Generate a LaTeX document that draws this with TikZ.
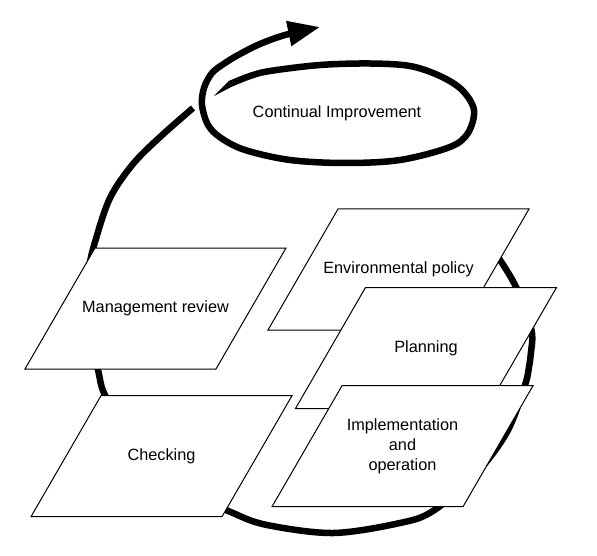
\documentclass[tikz,border=0pt]{standalone}
\usepackage{fontspec}
\setmainfont{Liberation Sans}
\usetikzlibrary{arrows.meta}
\newcommand{\stagefont}{\fontsize{16.3}{20}\selectfont}
\tikzset{
  band/.style={line width=6.5pt, line join=round},
  stageline/.style={draw, fill=white, line width=1pt, line join=miter},
  stagetext/.style={inner sep=0pt, align=center, font=\stagefont},
}
% a stage: slanted box round its centre, with a named text node
\newcommand{\stage}[4]{%
  \draw[stageline] (#2,#3) ++(-130.5,60.5) -- ++(191,0) -- ++(70,-121) -- ++(-191,0) -- cycle;
  \node[stagetext] (#1) at (#2,#3) {#4};}

\begin{document}
\begin{tikzpicture}[x=1pt,y=-1pt]
\useasboundingbox (0,0) rectangle (597,556);

%---------------- outer loop, behind the stages -----------------
\draw[band] plot[smooth, tension=0.55] coordinates {
  (486,240) (502,263) (514,283) (524,305) (532,333) (531,352) (529,367)
  (525,385) (507,432) (475,475) (433,511) (400,523) (333,533) (267,525)
  (233,513) (193,493) (150,456) (124,426) (104,393) (98,370) (89,335)
  (86,300) (89,268) (95,242) (110,198) (133,164) (160,137) (193,108)};

%---------------- inner loop with the arrow -----------------
\draw[band, preaction={draw=white, line width=13pt},
      -{Triangle[length=32pt,width=24pt]}] plot[smooth, tension=0.55] coordinates {
  (230,84) (250,76) (270,71) (320,65) (370,63.5) (410,66) (440,76)
  (462,90) (474,110) (468,133) (450,147) (400,160) (345,163) (290,160)
  (245,150) (221,138) (208,125) (202,105) (204,88) (212,73) (225,63)
  (240,54) (260,44) (285,35) (320,27)};
% tapered start of the inner loop
\fill (214,96) -- (231.2,87) -- (228.8,81) -- cycle;
\node[font=\stagefont] (improve) at (337,113) {Continual Improvement};

%---------------- the stages -----------------
\stage{review}{155.5}{308.5}{Management review}
\stage{check}{161.5}{456.2}{Checking}
\stage{policy}{398.5}{269.5}{Environmental policy}
\stage{plan}{426}{348}{Planning}
\stage{impl}{402.5}{446.2}{Implementation\\and\\operation}

\end{tikzpicture}
\end{document}
